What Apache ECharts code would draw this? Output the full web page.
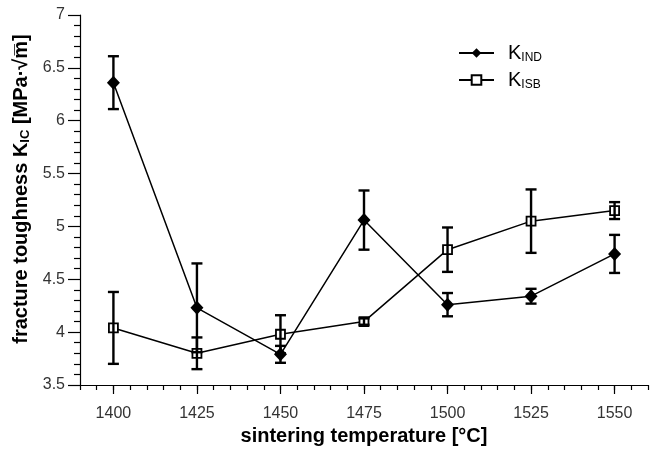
<!DOCTYPE html>
<html>
<head>
<meta charset="utf-8">
<script src="https://cdn.jsdelivr.net/npm/echarts@6/dist/echarts.min.js"></script>
<style>
html,body{margin:0;padding:0;background:#fff;}
#chart{width:668px;height:449px;}
</style>
</head>
<body>
<div id="chart"></div>
<script>
// Data
const temps = [1400, 1425, 1450, 1475, 1500, 1525, 1550];
const kInd = [6.36, 4.23, 3.79, 5.06, 4.26, 4.34, 4.74];
const kIndErr = [0.25, 0.42, 0.08, 0.28, 0.11, 0.07, 0.18];
const kIsb = [4.04, 3.80, 3.98, 4.10, 4.78, 5.05, 5.15];
const kIsbErr = [0.34, 0.15, 0.18, 0.03, 0.21, 0.30, 0.08];
const xTickLabels = [1400, 1425, 1450, 1475, 1500, 1525, 1550];

const FONT = 'Liberation Sans, Arial, sans-serif';
const chart = echarts.init(document.getElementById('chart'), null, {renderer: 'canvas'});

function errSeries(vals, errs, z) {
  return {
    type: 'custom',
    xAxisIndex: 0,
    yAxisIndex: 0,
    z: z,
    silent: true,
    encode: {x: 0, y: 1},
    data: temps.map((t, i) => [t, vals[i], errs[i]]),
    renderItem: function (params, api) {
      const x = api.value(0), y = api.value(1), e = api.value(2);
      const top = api.coord([x, y + e]);
      const bot = api.coord([x, y - e]);
      const hw = 5.5;
      const style = {stroke: '#000', lineWidth: 2.4, fill: null};
      return {
        type: 'group',
        children: [
          {type: 'line', shape: {x1: top[0], y1: top[1], x2: bot[0], y2: bot[1]}, style: style},
          {type: 'line', shape: {x1: top[0] - hw, y1: top[1], x2: top[0] + hw, y2: top[1]}, style: style},
          {type: 'line', shape: {x1: bot[0] - hw, y1: bot[1], x2: bot[0] + hw, y2: bot[1]}, style: style}
        ]
      };
    }
  };
}

const option = {
  backgroundColor: '#fff',
  animation: false,
  grid: {left: 80, top: 15, right: 20, bottom: 64, containLabel: false, outerBoundsMode: 'none'},
  legend: {
    orient: 'vertical',
    left: 458,
    top: 43,
    padding: 0,
    itemWidth: 35,
    itemHeight: 12,
    itemGap: 6,
    data: ['KIND', 'KISB'],
    formatter: function (name) {
      return name === 'KIND' ? '{k|K}{s|IND}' : '{k|K}{s|ISB}';
    },
    textStyle: {
      padding: [0, 0, 0, 9],
      rich: {
        k: {fontSize: 20, fontFamily: FONT, color: '#000', lineHeight: 20, verticalAlign: 'bottom'},
        s: {fontSize: 12, fontFamily: FONT, color: '#000', lineHeight: 20, verticalAlign: 'bottom', padding: [0, 0, -1, 0]}
      }
    }
  },
  xAxis: [
    {
      type: 'value',
      min: 1390,
      max: 1560,
      name: 'sintering temperature [°C]',
      nameLocation: 'middle',
      nameGap: 38,
      nameTextStyle: {fontSize: 20, fontWeight: 'bold', fontFamily: FONT, color: '#000'},
      axisLine: {show: true, lineStyle: {color: '#000', width: 1.2}},
      axisTick: {show: true, customValues: xTickLabels, length: 9, lineStyle: {color: '#000', width: 1.2}},
      axisLabel: {show: true, customValues: xTickLabels, margin: 21, fontSize: 16, fontFamily: FONT, color: '#333',
        formatter: function (v) { return String(v); }},
      splitLine: {show: false}
    },
    {
      type: 'value',
      position: 'bottom',
      min: 1390,
      max: 1560,
      interval: 5,
      axisLine: {show: false},
      axisTick: {show: true, length: 5, lineStyle: {color: '#000', width: 1.2}},
      axisLabel: {show: false},
      splitLine: {show: false}
    }
  ],
  yAxis: {
    type: 'value',
    min: 3.5,
    max: 7,
    interval: 0.5,
    name: '{a|fracture toughness K}{s|IC}{a| [MPa·√m̅]}',
    nameLocation: 'middle',
    nameGap: 44,
    nameRotate: 90,
    nameTextStyle: {
      padding: [0, 0, 0, 22],
      rich: {
        a: {fontSize: 20, fontWeight: 'bold', fontFamily: FONT, color: '#000', lineHeight: 22, verticalAlign: 'bottom'},
        s: {fontSize: 13, fontWeight: 'bold', fontFamily: FONT, color: '#000', lineHeight: 22, verticalAlign: 'bottom'}
      }
    },
    axisLine: {show: true, lineStyle: {color: '#000', width: 1.2}},
    axisTick: {show: true, length: 12, lineStyle: {color: '#000', width: 1.2}},
    minorTick: {show: true, splitNumber: 5, length: 6, lineStyle: {color: '#000', width: 1.2}},
    axisLabel: {margin: 15, fontSize: 16, fontFamily: FONT, color: '#333'},
    splitLine: {show: false}
  },
  series: [
    {
      name: 'KIND',
      type: 'line',
      xAxisIndex: 0,
      data: temps.map((t, i) => [t, kInd[i]]),
      symbol: 'diamond',
      symbolSize: [13, 14],
      showAllSymbol: true,
      z: 3,
      lineStyle: {color: '#000', width: 1.5},
      itemStyle: {color: '#000', borderColor: '#000', borderWidth: 0}
    },
    {
      name: 'KISB',
      type: 'line',
      xAxisIndex: 0,
      data: temps.map((t, i) => [t, kIsb[i]]),
      symbol: 'rect',
      symbolSize: 9,
      showAllSymbol: true,
      z: 3,
      lineStyle: {color: '#000', width: 1.5},
      itemStyle: {color: '#fff', borderColor: '#000', borderWidth: 1.8}
    },
    errSeries(kInd, kIndErr, 5),
    errSeries(kIsb, kIsbErr, 5)
  ]
};
chart.setOption(option);
</script>
</body>
</html>
